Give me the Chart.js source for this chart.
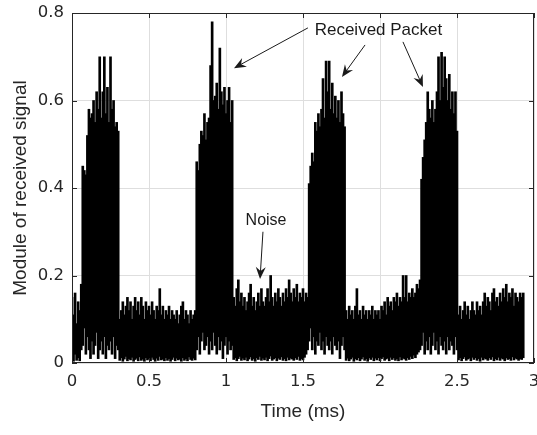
<!DOCTYPE html>
<html>
<head>
<meta charset="utf-8">
<script src="https://cdn.jsdelivr.net/npm/chart.js@4.4.1/dist/chart.umd.min.js"></script>
<style>
  html, body { margin: 0; padding: 0; background: #fff; }
</style>
</head>
<body>
<canvas id="myChart" width="537" height="435"></canvas>
<script>
// envelope of |r(t)|, one peak + one floor value every 0.01 ms
const sampleStep = 0.01;
const xTicks = [0, 0.5, 1, 1.5, 2, 2.5, 3];
const yTicks = [0, 0.2, 0.4, 0.6, 0.8];

const peakValues = [
  // noise 0 - 0.06
  0.15, 0.11, 0.16, 0.09, 0.14, 0.12, 0.18,
  // packet 1, 0.07 - 0.30
  0.45, 0.44, 0.43, 0.52, 0.58, 0.56, 0.57, 0.60, 0.55, 0.62, 0.58, 0.70,
  0.56, 0.62, 0.70, 0.57, 0.63, 0.55, 0.70, 0.58, 0.60, 0.54, 0.55, 0.53,
  // noise 0.31 - 0.80
  0.10, 0.12, 0.14, 0.11, 0.13, 0.15, 0.12, 0.14, 0.10, 0.13,
  0.15, 0.12, 0.14, 0.11, 0.15, 0.13, 0.10, 0.14, 0.12, 0.13,
  0.11, 0.14, 0.12, 0.10, 0.13, 0.12, 0.17, 0.11, 0.13, 0.10,
  0.12, 0.11, 0.13, 0.10, 0.12, 0.11, 0.10, 0.12, 0.09, 0.11,
  0.13, 0.14, 0.10, 0.12, 0.11, 0.09, 0.12, 0.10, 0.11, 0.12,
  // packet 2, 0.81 - 1.04
  0.46, 0.44, 0.50, 0.53, 0.52, 0.57, 0.51, 0.55, 0.56, 0.68, 0.78, 0.60,
  0.61, 0.64, 0.58, 0.72, 0.62, 0.59, 0.63, 0.57, 0.60, 0.63, 0.55, 0.60,
  // noise 1.05 - 1.53
  0.15, 0.13, 0.17, 0.19, 0.14, 0.16, 0.13, 0.15, 0.12, 0.14,
  0.16, 0.18, 0.13, 0.15, 0.12, 0.14, 0.16, 0.13, 0.17, 0.14,
  0.13, 0.15, 0.17, 0.14, 0.20, 0.15, 0.13, 0.16, 0.14, 0.17,
  0.15, 0.13, 0.16, 0.14, 0.17, 0.15, 0.19, 0.16, 0.14, 0.17,
  0.15, 0.18, 0.14, 0.16, 0.15, 0.17, 0.14, 0.16, 0.15,
  // packet 3, 1.54 - 1.77
  0.41, 0.45, 0.48, 0.46, 0.55, 0.53, 0.57, 0.54, 0.58, 0.65, 0.56, 0.69,
  0.62, 0.69, 0.58, 0.64, 0.57, 0.61, 0.56, 0.60, 0.55, 0.62, 0.57, 0.54,
  // noise 1.78 - 2.26
  0.12, 0.10, 0.13, 0.11, 0.12, 0.10, 0.13, 0.17, 0.11, 0.12,
  0.10, 0.13, 0.11, 0.12, 0.10, 0.12, 0.11, 0.13, 0.10, 0.12,
  0.11, 0.12, 0.10, 0.13, 0.12, 0.14, 0.11, 0.15, 0.13, 0.14,
  0.12, 0.15, 0.14, 0.16, 0.13, 0.15, 0.14, 0.20, 0.15, 0.20,
  0.14, 0.16, 0.15, 0.17, 0.15, 0.16, 0.18, 0.17, 0.19,
  // packet 4, 2.27 - 2.50
  0.42, 0.47, 0.51, 0.55, 0.62, 0.58, 0.56, 0.60, 0.55, 0.58, 0.62, 0.70,
  0.60, 0.71, 0.63, 0.70, 0.65, 0.60, 0.66, 0.58, 0.62, 0.57, 0.62, 0.53,
  // noise 2.51 - 2.93
  0.11, 0.13, 0.10, 0.12, 0.14, 0.11, 0.13, 0.10, 0.12, 0.14,
  0.12, 0.11, 0.14, 0.12, 0.13, 0.11, 0.14, 0.16, 0.13, 0.15,
  0.14, 0.12, 0.16, 0.17, 0.14, 0.15, 0.13, 0.16, 0.14, 0.17,
  0.15, 0.18, 0.14, 0.16, 0.15, 0.17, 0.13, 0.16, 0.15, 0.14,
  0.16, 0.15, 0.16
];

const floorValues = [
  0.010, 0.004, 0.020, 0.006, 0.012, 0.005, 0.030,
  0.04, 0.08, 0.02, 0.06, 0.03, 0.01, 0.05, 0.02, 0.04, 0.07, 0.01, 0.03,
  0.05, 0.02, 0.06, 0.01, 0.04, 0.03, 0.05, 0.02, 0.06, 0.01, 0.04, 0.03,
  0.006, 0.012, 0.004, 0.009, 0.015, 0.005, 0.010, 0.007, 0.013, 0.004,
  0.008, 0.011, 0.005, 0.014, 0.006, 0.009, 0.004, 0.012, 0.007, 0.010,
  0.005, 0.013, 0.008, 0.004, 0.011, 0.006, 0.015, 0.007, 0.009, 0.005,
  0.012, 0.006, 0.010, 0.004, 0.008, 0.013, 0.005, 0.011, 0.007, 0.009,
  0.004, 0.012, 0.006, 0.010, 0.005, 0.014, 0.008, 0.006, 0.011, 0.007,
  0.03, 0.06, 0.02, 0.05, 0.07, 0.03, 0.04, 0.06, 0.02, 0.05, 0.03, 0.07,
  0.04, 0.02, 0.06, 0.03, 0.05, 0.01, 0.04, 0.06, 0.02, 0.05, 0.03, 0.04,
  0.008, 0.012, 0.005, 0.010, 0.015, 0.006, 0.011, 0.007, 0.013, 0.005,
  0.009, 0.014, 0.006, 0.010, 0.004, 0.012, 0.008, 0.015, 0.006, 0.011,
  0.007, 0.013, 0.005, 0.010, 0.016, 0.006, 0.009, 0.012, 0.005, 0.011,
  0.008, 0.014, 0.006, 0.010, 0.005, 0.013, 0.007, 0.011, 0.009, 0.006,
  0.012, 0.008, 0.015, 0.006, 0.010, 0.007, 0.013, 0.020, 0.030,
  0.05, 0.08, 0.03, 0.06, 0.02, 0.05, 0.04, 0.07, 0.03, 0.05, 0.02, 0.06,
  0.04, 0.03, 0.05, 0.02, 0.06, 0.04, 0.03, 0.05, 0.01, 0.04, 0.06, 0.03,
  0.006, 0.011, 0.005, 0.009, 0.013, 0.004, 0.010, 0.007, 0.012, 0.005,
  0.009, 0.014, 0.006, 0.010, 0.004, 0.012, 0.008, 0.013, 0.005, 0.011,
  0.007, 0.012, 0.005, 0.010, 0.014, 0.006, 0.009, 0.011, 0.005, 0.013,
  0.008, 0.012, 0.006, 0.010, 0.005, 0.014, 0.007, 0.011, 0.009, 0.006,
  0.012, 0.008, 0.015, 0.010, 0.018, 0.012, 0.020, 0.025, 0.030,
  0.04, 0.07, 0.02, 0.05, 0.03, 0.06, 0.02, 0.04, 0.07, 0.03, 0.05, 0.02,
  0.06, 0.04, 0.03, 0.05, 0.02, 0.06, 0.03, 0.05, 0.04, 0.02, 0.06, 0.03,
  0.007, 0.012, 0.005, 0.010, 0.014, 0.006, 0.009, 0.011, 0.005, 0.013,
  0.008, 0.012, 0.006, 0.010, 0.004, 0.013, 0.007, 0.011, 0.009, 0.006,
  0.012, 0.008, 0.014, 0.005, 0.010, 0.007, 0.013, 0.006, 0.011, 0.009,
  0.005, 0.012, 0.008, 0.010, 0.006, 0.014, 0.007, 0.011, 0.009, 0.006,
  0.010, 0.008, 0.012
];

// each sample slot drawn as a floating bar from floor to peak
const points = peakValues.map((hi, i) => ({ x: i * sampleStep, y: [floorValues[i], hi] }));

const axisColor = '#262626';
const tickFont = { family: 'DejaVu Sans', size: 16.5 };
const titleFont = { family: 'Liberation Sans, Arial', size: 19 };

function arrow(ctx, x1, y1, x2, y2) {
  const ang = Math.atan2(y2 - y1, x2 - x1);
  ctx.beginPath();
  ctx.moveTo(x1, y1);
  ctx.lineTo(x2 - Math.cos(ang) * 6, y2 - Math.sin(ang) * 6);
  ctx.stroke();
  ctx.save();
  ctx.translate(x2, y2);
  ctx.rotate(ang);
  ctx.beginPath();
  ctx.moveTo(0, 0);
  ctx.lineTo(-12, -5);
  ctx.lineTo(-8, 0);
  ctx.lineTo(-12, 5);
  ctx.closePath();
  ctx.fill();
  ctx.restore();
}

const extras = {
  id: 'extras',
  afterDraw(chart) {
    const { ctx, chartArea: a, scales: { x, y } } = chart;
    ctx.save();
    ctx.strokeStyle = axisColor;
    ctx.lineWidth = 1;
    ctx.strokeRect(a.left + 0.5, a.top + 0.5, a.right - a.left - 1, a.bottom - a.top - 1);

    // inward tick marks on all four sides
    ctx.beginPath();
    xTicks.forEach(v => {
      const px = Math.round(x.getPixelForValue(v)) + 0.5;
      ctx.moveTo(px, a.bottom); ctx.lineTo(px, a.bottom - 5);
      ctx.moveTo(px, a.top); ctx.lineTo(px, a.top + 5);
    });
    yTicks.forEach(v => {
      const py = Math.round(y.getPixelForValue(v)) + 0.5;
      ctx.moveTo(a.left, py); ctx.lineTo(a.left + 5, py);
      ctx.moveTo(a.right, py); ctx.lineTo(a.right - 5, py);
    });
    ctx.stroke();

    // annotations
    ctx.fillStyle = '#1a1a1a';
    ctx.strokeStyle = '#1a1a1a';
    ctx.textAlign = 'center';
    ctx.textBaseline = 'middle';
    ctx.font = '17px "Liberation Sans", Arial';
    ctx.fillText('Received Packet', x.getPixelForValue(1.99), y.getPixelForValue(0.76));
    ctx.font = '16px "Liberation Sans", Arial';
    ctx.fillText('Noise', x.getPixelForValue(1.26), y.getPixelForValue(0.325));

    const P = (t, v) => [x.getPixelForValue(t), y.getPixelForValue(v)];
    [
      [1.532, 0.766, 1.052, 0.674],
      [1.903, 0.727, 1.753, 0.654],
      [2.149, 0.734, 2.279, 0.631],
      [1.240, 0.300, 1.221, 0.192]
    ].forEach(([t1, v1, t2, v2]) => {
      arrow(ctx, ...P(t1, v1), ...P(t2, v2));
    });
    ctx.restore();
  }
};

const ctx = document.getElementById('myChart');

new Chart(ctx, {
  type: 'bar',
  data: {
    datasets: [{
      data: points,
      backgroundColor: '#000',
      borderWidth: 0,
      barThickness: 2,
      grouped: false
    }]
  },
  options: {
    responsive: false,
    animation: false,
    layout: { padding: { top: 13, right: 3, left: 0, bottom: 0 } },
    plugins: {
      legend: { display: false },
      tooltip: { enabled: false }
    },
    scales: {
      x: {
        type: 'linear',
        min: 0,
        max: 3,
        offset: false,
        afterBuildTicks: s => { s.ticks = xTicks.map(v => ({ value: v })); },
        afterFit: s => { s.height = 72; s.paddingLeft = 0; s.paddingRight = 0; },
        grid: { color: '#dedede', drawTicks: false, offset: false },
        border: { display: false },
        ticks: {
          padding: 9,
          color: axisColor,
          font: tickFont,
          maxRotation: 0,
          autoSkip: false,
          callback: v => String(v)
        },
        title: {
          display: true,
          text: 'Time (ms)',
          color: axisColor,
          font: titleFont,
          padding: { top: 0, bottom: 12 }
        }
      },
      y: {
        min: 0,
        max: 0.8,
        afterBuildTicks: s => { s.ticks = yTicks.map(v => ({ value: v })); },
        afterFit: s => { s.width = 72; s.paddingTop = 0; s.paddingBottom = 0; },
        grid: { color: '#dedede', drawTicks: false },
        border: { display: false },
        ticks: {
          padding: 8,
          color: axisColor,
          font: tickFont,
          callback: v => String(v)
        },
        title: {
          display: true,
          text: 'Module of received signal',
          color: axisColor,
          font: titleFont,
          padding: { top: 9, bottom: 0 }
        }
      }
    }
  },
  plugins: [extras]
});
</script>
</body>
</html>
